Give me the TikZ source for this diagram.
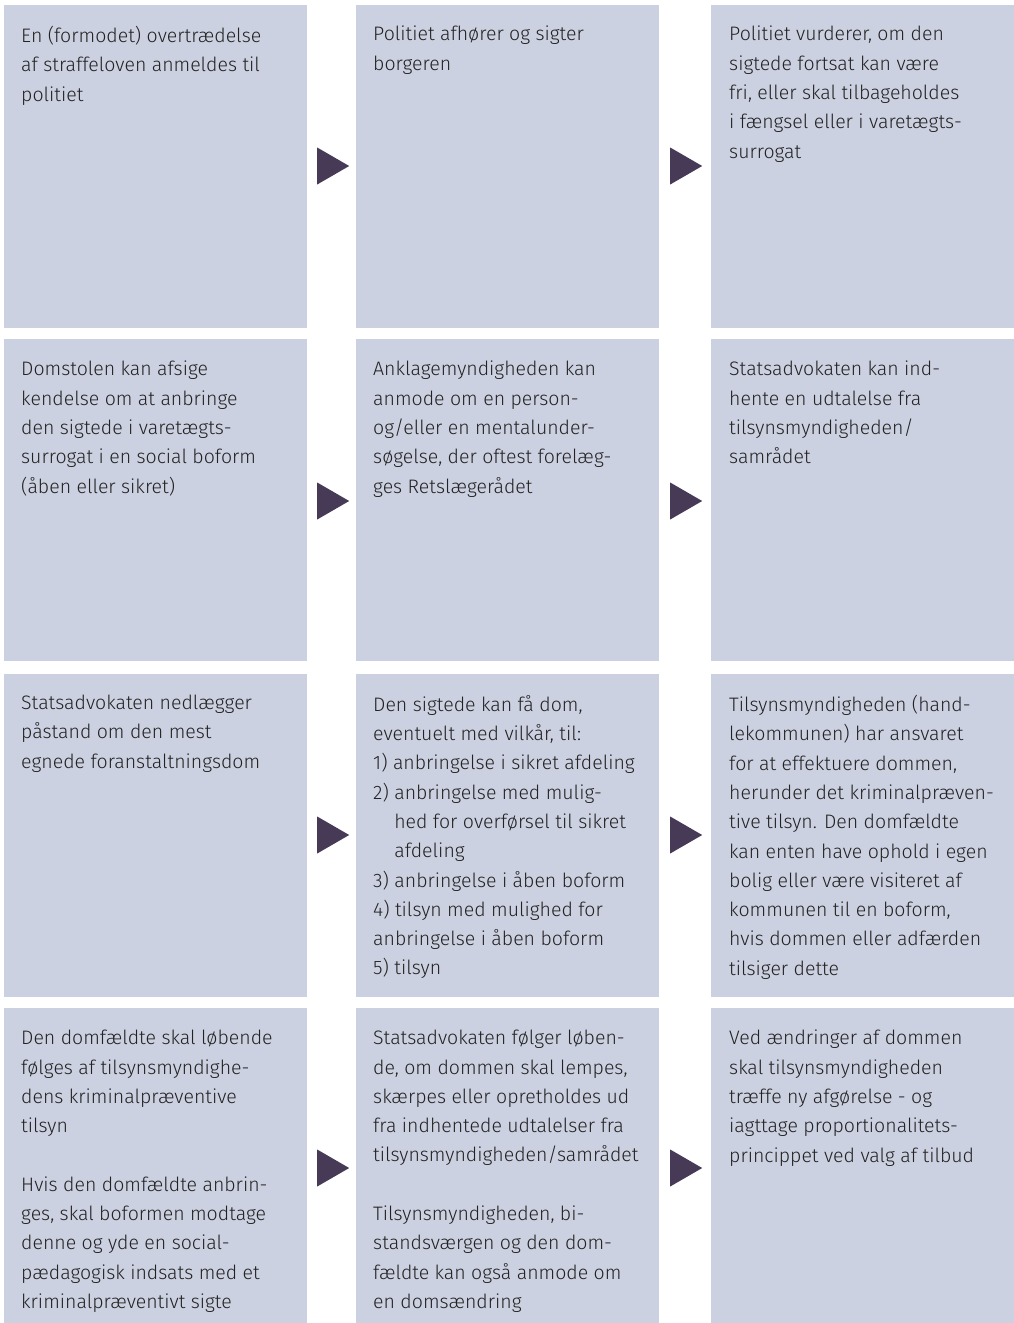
\documentclass[tikz,border=0pt]{standalone}
\usepackage{fontspec}
\setmainfont{Fira Sans Light}
\usetikzlibrary{shapes.geometric,calc}
\definecolor{boxfill}{HTML}{CCD1E2}
\definecolor{tricol}{HTML}{463A56}
\definecolor{txt}{HTML}{222222}
\tikzset{
  stepbox/.style={fill=boxfill, draw=none, inner sep=0},
  steptext/.style={anchor=north west, align=left, inner sep=0, text=txt,
    font=\fontsize{19.5pt}{29.3pt}\selectfont,
    execute at begin node={\rule{0pt}{20pt}}},
  tri/.style={isosceles triangle, isosceles triangle stretches, fill=tricol, draw=none,
    inner sep=0, minimum width=37pt, minimum height=32pt, anchor=west},
}
\begin{document}
\begin{tikzpicture}[x=1pt,y=-1pt]
\useasboundingbox (0,0) rectangle (1014,1323);
% boxes
\foreach \r/\top/\bot in {1/5/328,2/339/661,3/674/997,4/1008/1323}{
  \foreach \c/\l/\rr in {1/4/307,2/356/659,3/711/1014}{
    \path[stepbox] (\l,\top) rectangle (\rr,\bot);
  }
}
% texts
\node[steptext] (t11) at (21,26) {En (formodet) overtrædelse\\af straffeloven anmeldes til\\politiet};
\node[steptext] (t12) at (373,26) {Politiet afhører og sigter\\borgeren};
\node[steptext] (t13) at (729,26) {Politiet vurderer, om den\\sigtede fortsat kan være\\fri, eller skal tilbageholdes\\i fængsel eller i varetægts-\\surrogat};
\node[steptext] (t21) at (21,361) {Domstolen kan afsige\\kendelse om at anbringe\\den sigtede i varetægts-\\surrogat i en social boform\\(åben eller sikret)};
\node[steptext] (t22) at (373,361) {Anklagemyndigheden kan\\anmode om en person-\\og/eller en mentalunder-\\søgelse, der oftest forelæg-\\ges Retslægerådet};
\node[steptext] (t23) at (729,361) {Statsadvokaten kan ind-\\hente en udtalelse fra\\tilsynsmyndigheden/\\samrådet};
\node[steptext] (t31) at (21,695) {Statsadvokaten nedlægger\\påstand om den mest\\egnede foranstaltningsdom};
\node[steptext] (t32) at (373,695) {Den sigtede kan få dom,\\eventuelt med vilkår, til:\\1) anbringelse i sikret afdeling\\2) anbringelse med mulig-\\\phantom{2) }hed for overførsel til sikret\\\phantom{2) }afdeling\\3) anbringelse i åben boform\\4) tilsyn med mulighed for\\anbringelse i åben boform\\5) tilsyn};
\node[steptext] (t33) at (729,695) {Tilsynsmyndigheden (hand-\\lekommunen) har ansvaret\\for at effektuere dommen,\\herunder det kriminalpræven-\\tive tilsyn. Den domfældte\\kan enten have ophold i egen\\bolig eller være visiteret af\\kommunen til en boform,\\hvis dommen eller adfærden\\tilsiger dette};
\node[steptext] (t41) at (21,1030) {Den domfældte skal løbende\\følges af tilsynsmyndighe-\\dens kriminalpræventive\\tilsyn\\[29.3pt]Hvis den domfældte anbrin-\\ges, skal boformen modtage\\denne og yde en social-\\pædagogisk indsats med et\\kriminalpræventivt sigte};
\node[steptext] (t42) at (373,1030) {Statsadvokaten følger løben-\\de, om dommen skal lempes,\\skærpes eller opretholdes ud\\fra indhentede udtalelser fra\\tilsynsmyndigheden/samrådet\\[29.3pt]Tilsynsmyndigheden, bi-\\standsværgen og den dom-\\fældte kan også anmode om\\en domsændring};
\node[steptext] (t43) at (729,1030) {Ved ændringer af dommen\\skal tilsynsmyndigheden\\træffe ny afgørelse - og\\iagttage proportionalitets-\\princippet ved valg af tilbud};
% triangles
\foreach \r/\y in {1/166,2/501,3/835,4/1168}{
  \node[tri] (a\r1) at (317,\y) {};
  \node[tri] (a\r2) at (670,\y) {};
}
\end{tikzpicture}
\end{document}
